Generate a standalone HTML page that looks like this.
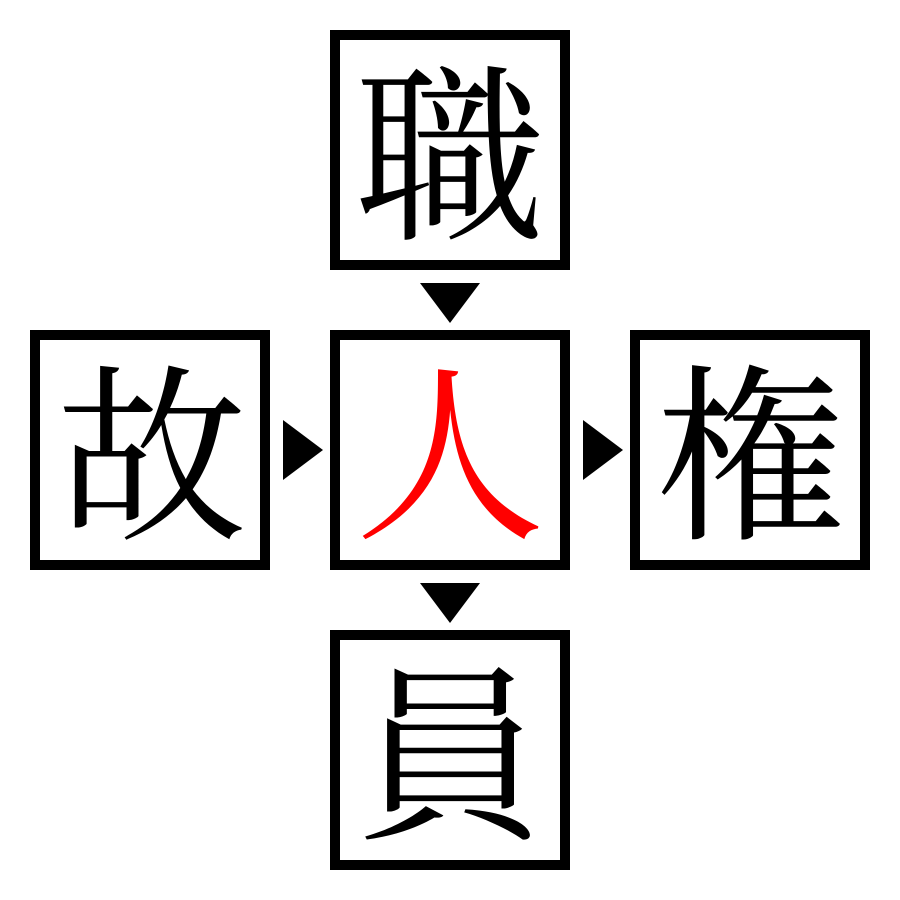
<!DOCTYPE html>
<html><head><meta charset="utf-8"><style>
html,body{margin:0;padding:0;background:#fff;}
svg{display:block}
text{font-family:"Noto Serif CJK SC","Noto Serif CJK JP",serif;font-size:190px;text-anchor:middle;dominant-baseline:central;}
</style></head><body>
<svg width="900" height="900" viewBox="0 0 900 900">
<g fill="none" stroke="#000" stroke-width="10">
<rect x="335" y="35" width="230" height="230"/>
<rect x="35" y="335" width="230" height="230"/>
<rect x="335" y="335" width="230" height="230"/>
<rect x="635" y="335" width="230" height="230"/>
<rect x="335" y="635" width="230" height="230"/>
</g>
<g fill="#000">
<polygon points="420,283 480,283 450,323"/>
<polygon points="420,583 480,583 450,623"/>
<polygon points="283,420 283,480 323,450"/>
<polygon points="583,420 583,480 623,450"/>
</g>
<text x="450" y="143">職</text>
<text x="152" y="443">故</text>
<text x="450" y="443" fill="#f00">人</text>
<text x="750" y="443">権</text>
<text x="450" y="743">員</text>
</svg>
</body></html>
